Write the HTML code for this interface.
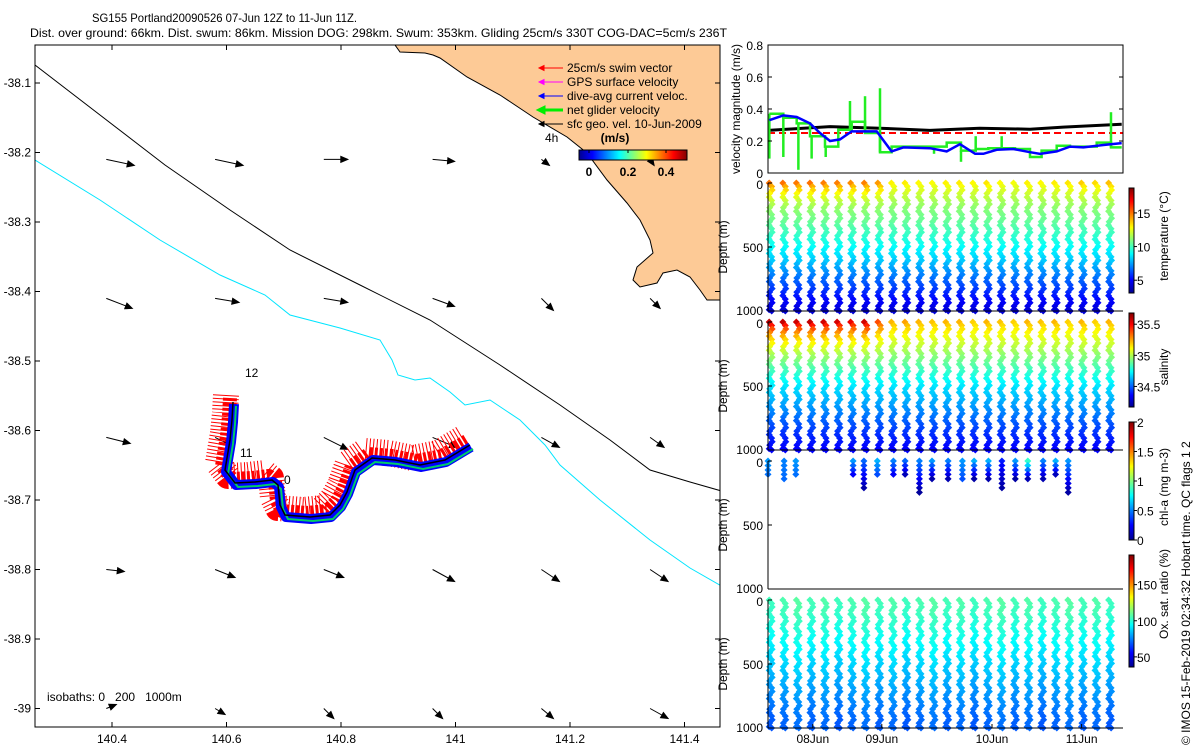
<!DOCTYPE html>
<html><head><meta charset="utf-8"><style>
html,body{margin:0;padding:0;background:#fff;}
svg{display:block;font-family:"Liberation Sans",sans-serif;}
text{font-size:12px;fill:#000;}
</style></head><body>
<svg id="fig" width="1200" height="750" viewBox="0 0 1200 750">
<defs>
<linearGradient id="jetv" x1="0" y1="1" x2="0" y2="0">
<stop offset="0" stop-color="#00008f"/><stop offset="0.125" stop-color="#0000ff"/><stop offset="0.375" stop-color="#00ffff"/><stop offset="0.625" stop-color="#ffff00"/><stop offset="0.875" stop-color="#ff0000"/><stop offset="1" stop-color="#800000"/>
</linearGradient>
<linearGradient id="jeth" x1="0" y1="0" x2="1" y2="0">
<stop offset="0" stop-color="#00008f"/><stop offset="0.125" stop-color="#0000ff"/><stop offset="0.375" stop-color="#00ffff"/><stop offset="0.625" stop-color="#ffff00"/><stop offset="0.875" stop-color="#ff0000"/><stop offset="1" stop-color="#800000"/>
</linearGradient>
<clipPath id="mapclip"><rect x="35" y="45" width="685" height="682"/></clipPath>
</defs>
<text x="92" y="22" textLength="265" lengthAdjust="spacingAndGlyphs">SG155 Portland20090526 07-Jun 12Z to 11-Jun 11Z.</text>
<text x="30" y="37" textLength="697" lengthAdjust="spacingAndGlyphs">Dist. over ground: 66km. Dist. swum: 86km. Mission DOG: 298km. Swum: 353km. Gliding 25cm/s 330T COG-DAC=5cm/s 236T</text>
<g id="map" clip-path="url(#mapclip)"></g>
<g id="mapaxes"></g>
<g id="right"></g>
<text transform="translate(1190,745) rotate(-90)">© IMOS 15-Feb-2019 02:34:32 Hobart time. QC flags 1  2</text>
</svg>
<script>
var NS="http://www.w3.org/2000/svg";
function mk(tag,attrs,parent){var e=document.createElementNS(NS,tag);for(var k in attrs)e.setAttribute(k,attrs[k]);parent.appendChild(e);return e;}
function jet(t){t=Math.max(0,Math.min(1,t));function c(v){return Math.round(255*Math.max(0,Math.min(1,v)));}
return "rgb("+c(1.5-Math.abs(4*t-3))+","+c(1.5-Math.abs(4*t-2))+","+c(1.5-Math.abs(4*t-1))+")";}

/* ---------- velocity panel data (days in June) ---------- */
var blueDays=[7.515,7.671,7.82,7.969,8.08,8.192,8.304,8.434,8.713,8.88,9.01,9.308,9.494,9.643,9.811,9.904,10.052,10.238,10.424,10.536,10.722,10.871,11.02,11.243,11.448];
var blueVals=[0.33,0.36,0.35,0.31,0.25,0.20,0.21,0.26,0.26,0.135,0.16,0.155,0.135,0.18,0.12,0.12,0.145,0.15,0.13,0.12,0.135,0.165,0.16,0.175,0.187];
var blackDays=[7.504,8.192,8.745,9.308,9.862,10.424,10.796,11.448];
var blackVals=[0.266,0.29,0.28,0.266,0.28,0.274,0.287,0.305];
var swimSpeed=0.25;
var greenStepDays=[7.515,7.671,7.82,7.969,8.136,8.285,8.434,8.583,8.75,8.88,9.494,9.654,9.818,9.959,10.257,10.424,10.554,10.722,10.871,11.168,11.328,11.447];
var greenStepVals=[0.37,0.345,0.31,0.23,0.165,0.27,0.32,0.25,0.13,0.165,0.19,0.14,0.15,0.155,0.15,0.10,0.14,0.17,0.165,0.19,0.16,0.16];
var greenSpikeDays=[7.515,7.671,7.839,7.987,8.144,8.415,8.583,8.75,9.353,9.654,9.818,10.108,11.328];
var greenSpikeVals=[0.09,0.10,0.02,0.09,0.10,0.45,0.48,0.53,0.12,0.07,0.23,0.23,0.38];
var velTicks=[0,0.2,0.4,0.6,0.8];
var timeTickDays=[8,8.77,10,11];
var timeTickLabels=["08Jun","09Jun","10Jun","11Jun"];

/* ---------- profile data ---------- */
var diveDays=[];for(var i=0;i<26;i++)diveDays.push(7.53+i*0.1515);
var profDepths=[0,100,200,300,400,500,600,700,800,900,1000];
var tempBase=[12.5,11.8,11,10.5,9.8,9,8.2,7.2,6.2,5.2,4.4];
var surfTemp=[15.0,15.0,14.9,15.0,14.8,14.8,14.6,14.8,14.4,13.0,13.1,12.9,12.8,13.0,13.1,12.9,13.2,12.8,12.7,13.0,12.9,13.1,13.2,13.6,13.4,13.8];
var salBase=[35.15,35.08,35.0,34.9,34.8,34.7,34.63,34.56,34.48,34.41,34.35];
var surfSal=[35.58,35.58,35.56,35.58,35.56,35.55,35.52,35.56,35.38,35.22,35.25,35.22,35.2,35.22,35.22,35.18,35.22,35.2,35.18,35.22,35.2,35.22,35.18,35.22,35.18,35.22];
var oxyBase=[106,104,100,96,92,88,84,80,76,72,70];
var chlDays=[7.50,7.68,7.81,8.45,8.57,8.72,8.90,9.03,9.19,9.33,9.51,9.67,9.80,9.96,10.11,10.26,10.40,10.57,10.71,10.85];
var chlMaxDepth=[138,156,130,120,229,130,120,125,247,150,156,146,146,150,229,146,150,156,120,255];
var chlSurf=[0.55,0.5,0.55,0.55,0.45,0.6,0.5,0.45,0.5,0.55,0.5,0.55,0.6,0.6,0.3,0.55,0.85,0.5,0.6,0.55];
var chlDeep=[0.45,0.45,0.45,0.2,0.05,0.35,0.2,0.05,0.05,0.05,0.05,0.4,0.05,0.05,0.05,0.05,0.05,0.05,0.05,0.05];

var R=document.getElementById("right");
var X0=768,X1=1123,D0=7.5,D1=11.462;
function xd(d){return X0+(d-D0)/(D1-D0)*(X1-X0);}

/* velocity panel */
(function(){
 var top=45,bot=173;
 function yv(v){return bot-v/0.8*(bot-top);}
 var g=mk("g",{},R);
 
 
 var rl=mk("line",{x1:X0,x2:X1,y1:yv(swimSpeed),y2:yv(swimSpeed),stroke:"#ff0000","stroke-width":2,"stroke-dasharray":"7 4"},g);
 
 
 var p="";for(var i=0;i<blackDays.length;i++)p+=(i?"L":"M")+xd(blackDays[i]).toFixed(1)+","+yv(blackVals[i]).toFixed(1);
 var bl=mk("path",{d:p,fill:"none",stroke:"#000","stroke-width":3},g);
 
 
 p="";
 for(var i=0;i<greenStepDays.length-1;i++){
   var xa=xd(greenStepDays[i]),xb=xd(greenStepDays[i+1]),y=yv(greenStepVals[i]);
   p+=(i?"L":"M")+xa.toFixed(1)+","+y.toFixed(1)+"L"+xb.toFixed(1)+","+y.toFixed(1);
 }
 var gl=mk("path",{d:p,fill:"none",stroke:"#22ee22","stroke-width":2.5},g);
 
 
 for(var i=0;i<greenSpikeDays.length;i++){
   var d=greenSpikeDays[i],base=greenStepVals[0];
   for(var j=0;j<greenStepDays.length;j++){if(greenStepDays[j]<=d+0.001)base=greenStepVals[j];}
   var s=mk("line",{x1:xd(d),x2:xd(d),y1:yv(base),y2:yv(greenSpikeVals[i]),stroke:"#22ee22","stroke-width":2.5},g);
   
   
 }
 p="";for(var i=0;i<blueDays.length;i++)p+=(i?"L":"M")+xd(blueDays[i]).toFixed(1)+","+yv(blueVals[i]).toFixed(1);
 var bu=mk("path",{d:p,fill:"none",stroke:"#0000ff","stroke-width":2.5},g);
 
 
 var box=mk("rect",{x:X0,y:top,width:X1-X0,height:bot-top,fill:"none",stroke:"#000"},g);
 
 
 velTicks.forEach(function(v){
   mk("line",{x1:X0,x2:X0+4,y1:yv(v),y2:yv(v),stroke:"#000"},g);
   mk("line",{x1:X1,x2:X1-4,y1:yv(v),y2:yv(v),stroke:"#000"},g);
   var t=mk("text",{x:763,y:yv(v)+5,"text-anchor":"end"},g);t.textContent=String(v);
   
   
 });
 var yl=mk("text",{transform:"translate(740,109) rotate(-90)","text-anchor":"middle"},g);
 yl.textContent="velocity magnitude (m/s)";
 
 
})();

/* depth panels */
function interp(arr,z){z=Math.min(1000,z);var k=Math.min(9,Math.floor(z/100));var f=(z-k*100)/100;return arr[k]+(arr[k+1]-arr[k])*f;}
var panels=[
 {top:183,name:"temperature",label:"temperature (°C)",lmid:236,cmin:3.1,cmax:18.7,cbt:188,cbb:293,ticks:[5,10,15],
  val:function(i,z){return interp(tempBase,z)+(surfTemp[i]-tempBase[0])*Math.exp(-z/90);}},
 {top:322,name:"salinity",label:"salinity",lmid:367,cmin:34.17,cmax:35.68,cbt:313,cbb:407,ticks:[34.5,35,35.5],
  val:function(i,z){return interp(salBase,z)+(surfSal[i]-salBase[0])*Math.exp(-z/110);}},
 {top:461,name:"chl",label:"chl-a (mg m-3)",lmid:487,cmin:0,cmax:2,cbt:422,cbb:540,ticks:[0,0.5,1,1.5,2],val:null},
 {top:600,name:"oxygen",label:"Ox. sat. ratio (%)",lmid:594,cmin:36,cmax:191,cbt:555,cbb:667,ticks:[50,100,150],
  val:function(i,z){return interp(oxyBase,z)+((i*7)%5-2);}}
];
panels.forEach(function(P,pi){
 var H=128;function yz(z){return P.top+z/1000*H;}
 var g=mk("g",{},R);
 
 
 function dia(x,y,c){var d=mk("path",{d:"M"+x.toFixed(1)+","+(y-3.5).toFixed(1)+"l3.5,3.5l-3.5,3.5l-3.5,-3.5z",fill:c},g);
   
   }
 if(P.val){
   diveDays.forEach(function(day,i){
     var x=xd(day),k=0;
     for(var z=0;z<=1000;z+=55){
       var v=P.val(i,z),c=jet((v-P.cmin)/(P.cmax-P.cmin));
       dia(x+((k%2)?1.5:-1.5),yz(z),c);
       var z2=Math.min(1000,z+27);
       dia(x+((k%2)?-1:1),yz(z2),jet((P.val(i,z2)-P.cmin)/(P.cmax-P.cmin)));
       k++;
     }
   });
 } else {
   chlDays.forEach(function(day,i){
     var x=xd(day),md=chlMaxDepth[i];
     for(var z=0;z<=md;z+=35){
       var f=z/md,v=chlSurf[i]+(chlDeep[i]-chlSurf[i])*f;
       dia(x,yz(z),jet(v/2));
     }
   });
 }
 mk("line",{x1:X0,x2:X0,y1:P.top,y2:P.top+H,stroke:"#000"},g);
 var ax=mk("line",{x1:X0,x2:X1,y1:P.top+H,y2:P.top+H,stroke:"#000"},g);
 
 
 [0,500,1000].forEach(function(z){
   mk("line",{x1:X0,x2:X0+4,y1:yz(z),y2:yz(z),stroke:"#000"},g);
   var t=mk("text",{x:763,y:yz(z)+(z==0?6:z==1000?4:5),"text-anchor":"end"},g);t.textContent=String(z);
   
   
 });
 var dl=mk("text",{transform:"translate(727,"+(P.top+64)+") rotate(-90)","text-anchor":"middle"},g);
 dl.textContent="Depth (m)";
 
 
 var cb=mk("rect",{x:1129,y:P.cbt,width:5,height:P.cbb-P.cbt,fill:"url(#jetv)",stroke:"#000","stroke-width":1},g);
 
 
 P.ticks.forEach(function(v){
   var y=P.cbb-(v-P.cmin)/(P.cmax-P.cmin)*(P.cbb-P.cbt);
   mk("line",{x1:1134,x2:1137,y1:y,y2:y,stroke:"#000"},g);
   var t=mk("text",{x:1137,y:y+5,"font-size":"14px"},g);t.textContent=String(v);
   
   
 });
 var cl=mk("text",{transform:"translate(1168,"+P.lmid+") rotate(-90)","text-anchor":"middle","font-size":"13px"},g);
 cl.textContent=P.label;
 
 
});
timeTickDays.forEach(function(d,i){
 var t=mk("text",{x:xd(d),y:743,"text-anchor":"middle"},R);t.textContent=timeTickLabels[i];
 
 
 mk("line",{x1:xd(d),x2:xd(d),y1:728,y2:724,stroke:"#000"},R);
});

/* ---------- map ---------- */
var M=document.getElementById("map"),MA=document.getElementById("mapaxes");
function lx(lon){return 112+(lon-140.4)*572.5;}
function ly(lat){return 83+(-38.1-lat)*695;}
var coastXY=[[395,45],[720,45],[720,300],[707,300],[700,290],[690,277],[677,270],[663,273],[657,283],[640,287],[633,280],[637,267],[653,253],[650,240],[640,220],[627,203],[607,180],[587,153],[567,137],[533,117],[500,95],[467,77],[440,58],[433,55],[425,53],[400,52]];
var iso200XY=[[35,65],[100,115],[165,165],[230,210],[290,250],[360,285],[430,320],[500,365],[560,405],[610,440],[650,470],[690,482],[725,492]];
var iso1000XY=[[35,160],[100,200],[160,240],[220,275],[265,295],[290,315],[340,328],[380,340],[392,360],[398,375],[415,380],[430,378],[450,392],[465,405],[490,400],[520,420],[545,445],[560,465],[600,500],[650,540],[690,568],[725,588]];
function pathOf(a,close){return a.map(function(p,i){return (i?"L":"M")+p[0]+","+p[1];}).join("")+(close?"Z":"");}
var land=mk("path",{d:pathOf(coastXY,true),fill:"#fdca96",stroke:"#000","stroke-width":1},M);


var i2=mk("path",{d:pathOf(iso200XY),fill:"none",stroke:"#000"},M);


var i3=mk("path",{d:pathOf(iso1000XY),fill:"none",stroke:"#00e5ff"},M);


var arrowLons=[140.39,140.58,140.77,140.96,141.15,141.34];
var arrowLats=[-38.21,-38.41,-38.61,-38.80,-39.00];
var arrowU=[[28,28,24,22,8,4],[26,24,24,22,12,10],[24,16,24,24,18,14],[18,20,20,22,18,18],[10,10,10,10,12,18]];
var arrowV=[[6,6,0,2,6,6],[10,4,4,8,12,10],[6,8,12,10,10,10],[2,8,8,12,12,12],[-4,6,10,10,10,10]];
arrowLats.forEach(function(la,r){arrowLons.forEach(function(lo,c){
 var x=lx(lo),y=ly(la),u=arrowU[r][c],v=arrowV[r][c],L=Math.sqrt(u*u+v*v),ux=u/L,uy=v/L;
 var ex=x+u,ey=y+v;
 var a=mk("path",{d:"M"+x.toFixed(1)+","+y.toFixed(1)+"L"+ex.toFixed(1)+","+ey.toFixed(1)+"M"+ex.toFixed(1)+","+ey.toFixed(1)+"l"+(-7*ux-3*uy).toFixed(1)+","+(-7*uy+3*ux).toFixed(1)+"l"+(6*uy).toFixed(1)+","+(-6*ux).toFixed(1)+"z",stroke:"#000",fill:"#000","stroke-width":1},M);
 
 
});});
var trackXY=[[233,402],[232,420],[230,440],[225,470],[235,483],[255,482],[272,480],[278,485],[280,505],[285,515],[310,517],[330,515],[340,505],[347,492],[355,470],[372,458],[395,460],[420,465],[445,460],[470,445]];
var red=mk("path",{d:pathOf(trackXY),fill:"none",stroke:"#ff0000","stroke-width":26,"stroke-dasharray":"1 2.5","stroke-linejoin":"round",transform:"translate(-7,-7)"},M);


var red2=mk("path",{d:pathOf(trackXY),fill:"none",stroke:"#ff0000","stroke-width":14,"stroke-dasharray":"3 2","stroke-linejoin":"round",transform:"translate(-3,-4)"},M);


var blu=mk("path",{d:pathOf(trackXY),fill:"none",stroke:"#0000ff","stroke-width":10,"stroke-linejoin":"round",transform:"translate(1,2)"},M);


var grn=mk("path",{d:pathOf(trackXY),fill:"none",stroke:"#00cc66","stroke-width":2,transform:"translate(3,4)"},M);


var trk=mk("path",{d:pathOf(trackXY),fill:"none",stroke:"#000","stroke-width":1.5},M);


[["12",245,377],["11",240,457],["0",284,484],["4h",545,142]].forEach(function(a){
 var t=mk("text",{x:a[1],y:a[2]},M);t.textContent=a[0];
 
 
});
var iso=mk("text",{x:47,y:701},M);iso.textContent="isobaths: 0   200   1000m";
iso.setAttribute('style','white-space:pre');


var legItems=[["25cm/s swim vector","#ff0000",1],["GPS surface velocity","#ff00ff",1],["dive-avg current veloc.","#0000ff",1],["net glider velocity","#00ee00",3],["sfc geo. vel. 10-Jun-2009","#000",1]];
legItems.forEach(function(it,i){
 var y=68+i*14;
 var l=mk("path",{d:"M539,"+y+"L563,"+y+"M539,"+y+"l5,-2.5v5z",stroke:it[1],fill:it[1],"stroke-width":it[2]},M);
 
 
 var t=mk("text",{x:567,y:y+4},M);t.textContent=it[0];
 
 
});
var ms=mk("text",{x:615,y:142,"font-weight":"bold","text-anchor":"middle"},M);ms.textContent="(m/s)";


var scb=mk("rect",{x:579,y:150,width:108,height:10,fill:"url(#jeth)",stroke:"#000"},M);


[["0",589],["0.2",628],["0.4",666]].forEach(function(a){
 mk("line",{x1:a[1],x2:a[1],y1:150,y2:153,stroke:"#000"},M);
 var t=mk("text",{x:a[1],y:176,"font-weight":"bold","text-anchor":"middle"},M);t.textContent=a[0];
 
 
});
var mb=mk("rect",{x:35,y:45,width:685,height:682,fill:"none",stroke:"#000"},MA);


var lonTicks=[140.4,140.6,140.8,141,141.2,141.4],latTicks=[-38.1,-38.2,-38.3,-38.4,-38.5,-38.6,-38.7,-38.8,-38.9,-39];
lonTicks.forEach(function(v){var x=lx(v);
 mk("line",{x1:x,x2:x,y1:727,y2:722,stroke:"#000"},MA);mk("line",{x1:x,x2:x,y1:45,y2:50,stroke:"#000"},MA);
 var t=mk("text",{x:x,y:743,"text-anchor":"middle"},MA);t.textContent=String(v);
 
 });
latTicks.forEach(function(v){var y=ly(v);
 mk("line",{x1:35,x2:40,y1:y,y2:y,stroke:"#000"},MA);mk("line",{x1:720,x2:715,y1:y,y2:y,stroke:"#000"},MA);
 var t=mk("text",{x:31,y:y+4,"text-anchor":"end"},MA);t.textContent=String(v);
 
 });
</script>
</body></html>
